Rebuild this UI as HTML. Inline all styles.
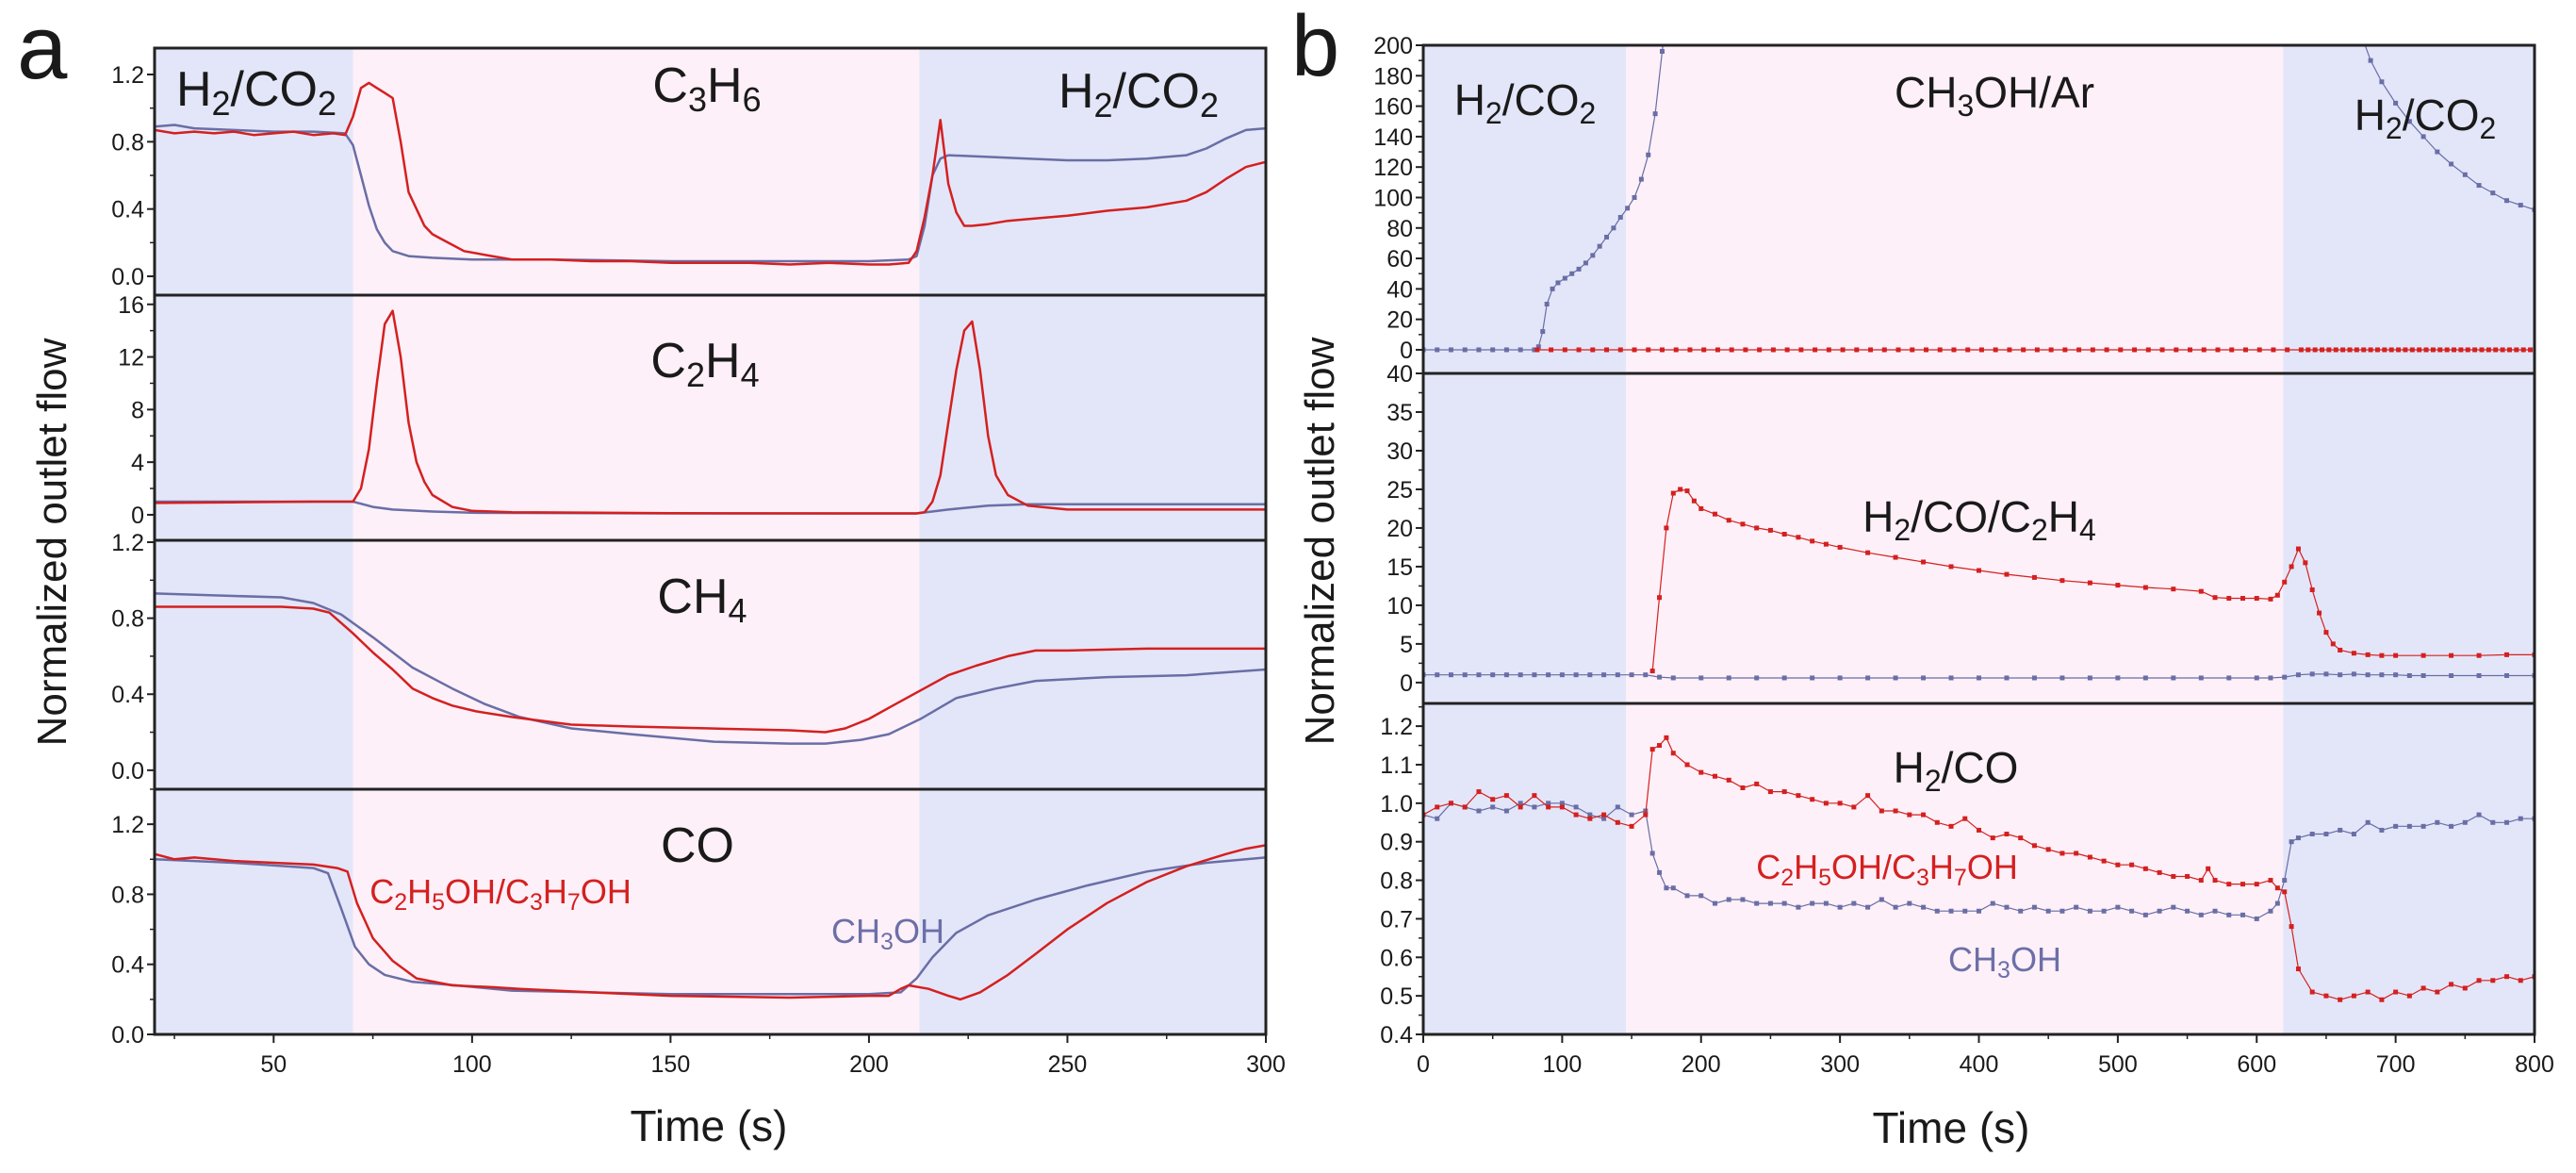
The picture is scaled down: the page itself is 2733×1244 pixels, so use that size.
<!DOCTYPE html>
<html><head><meta charset="utf-8"><style>
html,body{margin:0;padding:0;background:#fff}
svg{display:block}
text{font-family:"Liberation Sans Narrow","Liberation Sans",Arial,sans-serif;fill:#1a1a1a}
.tk{font-size:25px}
.big{font-family:"Liberation Sans",Arial,sans-serif}
</style></head><body>
<svg id="fig" width="2733" height="1244" viewBox="0 0 2733 1244" xmlns="http://www.w3.org/2000/svg">
<g id="bg"></g>
<g id="marks"></g>
<g id="axes"></g>
<text class="big" x="18" y="83" font-size="96">a</text>
<text class="big" x="1370" y="80" font-size="92">b</text>
<text class="big" transform="translate(70,575) rotate(-90)" text-anchor="middle" font-size="44">Normalized outlet flow</text>
<text class="big" transform="translate(1415,574) rotate(-90)" text-anchor="middle" font-size="44">Normalized outlet flow</text>
<text x="752" y="1210" text-anchor="middle" font-size="46">Time (s)</text>
<text x="2070" y="1212" text-anchor="middle" font-size="46">Time (s)</text>
<g font-size="52">
<text x="272" y="112" text-anchor="middle">H<tspan font-size="36" dy="10">2</tspan><tspan dy="-10">/CO</tspan><tspan font-size="36" dy="10">2</tspan></text>
<text x="750" y="108" text-anchor="middle">C<tspan font-size="36" dy="10">3</tspan><tspan dy="-10">H</tspan><tspan font-size="36" dy="10">6</tspan></text>
<text x="1208" y="114" text-anchor="middle">H<tspan font-size="36" dy="10">2</tspan><tspan dy="-10">/CO</tspan><tspan font-size="36" dy="10">2</tspan></text>
<text x="748" y="400" text-anchor="middle">C<tspan font-size="36" dy="10">2</tspan><tspan dy="-10">H</tspan><tspan font-size="36" dy="10">4</tspan></text>
<text x="745" y="650" text-anchor="middle">CH<tspan font-size="36" dy="10">4</tspan></text>
<text x="740" y="914" text-anchor="middle">CO</text>
<text x="1618" y="122" text-anchor="middle" font-size="46">H<tspan font-size="32" dy="9">2</tspan><tspan dy="-9">/CO</tspan><tspan font-size="32" dy="9">2</tspan></text>
<text x="2116" y="114" text-anchor="middle" font-size="46">CH<tspan font-size="32" dy="9">3</tspan><tspan dy="-9">OH/Ar</tspan></text>
<text x="2573" y="138" text-anchor="middle" font-size="46">H<tspan font-size="32" dy="9">2</tspan><tspan dy="-9">/CO</tspan><tspan font-size="32" dy="9">2</tspan></text>
<text x="2100" y="564" text-anchor="middle" font-size="46">H<tspan font-size="32" dy="9">2</tspan><tspan dy="-9">/CO/C</tspan><tspan font-size="32" dy="9">2</tspan><tspan dy="-9">H</tspan><tspan font-size="32" dy="9">4</tspan></text>
<text x="2075" y="830" text-anchor="middle" font-size="46">H<tspan font-size="32" dy="9">2</tspan><tspan dy="-9">/CO</tspan></text>
</g>
<text x="531" y="958" text-anchor="middle" font-size="36" style="fill:#d42020">C<tspan font-size="25" dy="7">2</tspan><tspan dy="-7">H</tspan><tspan font-size="25" dy="7">5</tspan><tspan dy="-7">OH/C</tspan><tspan font-size="25" dy="7">3</tspan><tspan dy="-7">H</tspan><tspan font-size="25" dy="7">7</tspan><tspan dy="-7">OH</tspan></text>
<text x="942" y="1000" text-anchor="middle" font-size="36" style="fill:#6c6fa8">CH<tspan font-size="25" dy="7">3</tspan><tspan dy="-7">OH</tspan></text>
<text x="2002" y="932" text-anchor="middle" font-size="36" style="fill:#d42020">C<tspan font-size="25" dy="7">2</tspan><tspan dy="-7">H</tspan><tspan font-size="25" dy="7">5</tspan><tspan dy="-7">OH/C</tspan><tspan font-size="25" dy="7">3</tspan><tspan dy="-7">H</tspan><tspan font-size="25" dy="7">7</tspan><tspan dy="-7">OH</tspan></text>
<text x="2127" y="1030" text-anchor="middle" font-size="36" style="fill:#6c6fa8">CH<tspan font-size="25" dy="7">3</tspan><tspan dy="-7">OH</tspan></text>
</svg>
<script>
// ---------- Panel a data ----------
const aC3H6RedT = [20,25,30,35,40,45,50,55,60,65,68,70,72,74,76,78,80,82,84,86,88,90,94,98,105,110,120,130,140,150,160,170,180,190,200,205,210,212,214,216,218,220,222,224,226,230,235,240,250,260,270,280,285,290,295,300];
const aC3H6RedV = [0.87,0.85,0.86,0.85,0.86,0.84,0.85,0.86,0.84,0.85,0.84,0.95,1.12,1.15,1.12,1.09,1.06,0.8,0.5,0.4,0.3,0.25,0.2,0.15,0.12,0.1,0.1,0.09,0.09,0.08,0.08,0.08,0.07,0.08,0.07,0.07,0.08,0.15,0.35,0.6,0.93,0.55,0.38,0.3,0.3,0.31,0.33,0.34,0.36,0.39,0.41,0.45,0.5,0.58,0.65,0.68];
const aC3H6BlueT = [20,25,30,40,50,60,68,70,72,74,76,78,80,84,90,100,120,150,180,200,210,212,214,216,218,220,230,240,250,260,270,275,280,285,290,295,300];
const aC3H6BlueV = [0.89,0.9,0.88,0.87,0.86,0.86,0.85,0.78,0.6,0.42,0.28,0.2,0.15,0.12,0.11,0.1,0.1,0.09,0.09,0.09,0.1,0.12,0.3,0.6,0.7,0.72,0.71,0.7,0.69,0.69,0.7,0.71,0.72,0.76,0.82,0.87,0.88];
const aC2H4RedT = [20,40,60,70,72,74,76,78,80,82,84,86,88,90,95,100,110,150,200,212,214,216,218,220,222,224,226,228,230,232,235,240,250,300];
const aC2H4RedV = [0.9,0.95,1.0,1.0,2,5,10,14.5,15.5,12,7,4,2.5,1.5,0.6,0.3,0.2,0.12,0.1,0.1,0.2,1,3,7,11,14,14.7,11,6,3,1.5,0.7,0.4,0.4];
const aC2H4BlueT = [20,40,60,70,75,80,90,100,150,200,212,220,230,240,300];
const aC2H4BlueV = [1.0,1.0,1.0,1.0,0.6,0.4,0.25,0.15,0.1,0.1,0.1,0.4,0.7,0.8,0.8];
const aCH4RedT = [20,40,52,60,64,70,75,80,85,90,95,101,110,125,140,160,180,189,194,200,206,213,220,227,235,242,250,270,300];
const aCH4RedV = [0.86,0.86,0.86,0.85,0.83,0.72,0.62,0.53,0.43,0.38,0.34,0.31,0.28,0.24,0.23,0.22,0.21,0.2,0.22,0.27,0.34,0.42,0.5,0.55,0.6,0.63,0.63,0.64,0.64];
const aCH4BlueT = [20,35,52,60,67,75,85,95,103,112,125,140,161,180,189,198,205,213,222,232,242,260,280,300];
const aCH4BlueV = [0.93,0.92,0.91,0.88,0.82,0.7,0.54,0.43,0.35,0.28,0.22,0.19,0.15,0.14,0.14,0.16,0.19,0.27,0.38,0.43,0.47,0.49,0.5,0.53];
const aCORedT = [20,25,30,40,50,60,66,68.6,71,75,80,86,95,105,112,130,150,180,200,205,208,210,215,220,223,228,235,242,250,260,270,280,290,295,300];
const aCORedV = [1.03,1.0,1.01,0.99,0.98,0.97,0.95,0.93,0.75,0.55,0.42,0.32,0.28,0.27,0.26,0.24,0.22,0.21,0.22,0.22,0.26,0.28,0.26,0.22,0.2,0.24,0.34,0.46,0.6,0.75,0.87,0.96,1.03,1.06,1.08];
const aCOBlueT = [20,40,60,63.7,67,70.5,74,78,85,96,110,150,200,208,212,216,222,230,242,255,270,285,300];
const aCOBlueV = [1.0,0.98,0.95,0.92,0.72,0.5,0.4,0.34,0.3,0.28,0.25,0.23,0.23,0.24,0.32,0.44,0.58,0.68,0.77,0.85,0.93,0.98,1.01];
// ---------- Panel b data ----------
const bTopBlueT = [0,10,20,30,40,50,60,70,80,83,86,89,93,97,102,107,112,117,122,127,132,137,142,147,152,157,162,167,172,180,670,676,682,690,700,710,720,730,740,750,760,770,780,790,800];
const bTopBlueV = [0,0,0,0,0,0,0,0,0,2,12,30,40,44,47,50,53,57,62,68,74,80,87,93,100,112,128,155,196,260,260,205,190,176,162,150,140,130,122,115,108,103,98,95,92];
const bTopRedT = [82,92,102,112,122,132,142,152,162,172,182,192,202,212,222,232,242,252,262,272,282,292,302,312,322,332,342,352,362,372,382,392,402,412,422,432,442,452,462,472,482,492,502,512,522,532,542,552,562,572,582,592,602,612,622,632,637,642,647,652,657,662,667,672,677,682,687,692,697,702,707,712,717,722,727,732,737,742,747,752,757,762,767,772,777,782,787,792,797];
const bTopRedV = bTopRedT.map(() => 0);
const bMidBlueT = [0,10,20,30,40,50,60,70,80,90,100,110,120,130,140,150,160,170,180,200,220,240,260,280,300,320,340,360,380,400,420,440,460,480,500,520,540,560,580,600,610,620,630,640,650,660,670,680,690,700,710,720,740,760,780,800];
const bMidBlueV = [1,1,1,1,1,1,1,1,1,1,1,1,1,1,1,1,1,0.7,0.6,0.6,0.6,0.6,0.6,0.6,0.6,0.6,0.6,0.6,0.6,0.6,0.6,0.6,0.6,0.6,0.6,0.6,0.6,0.6,0.6,0.6,0.6,0.7,1.0,1.1,1.1,1.0,1.1,1.0,1.0,1.0,0.9,0.9,0.9,0.9,0.9,0.9];
const bMidRedT = [165,170,175,180,185,190,195,200,210,220,230,240,250,260,270,280,290,300,320,340,360,380,400,420,440,460,480,500,520,540,560,570,580,590,600,610,615,620,625,630,635,640,645,650,655,660,670,680,690,700,720,740,760,780,800];
const bMidRedV = [1.5,11,20,24.5,25,24.8,23.5,22.5,21.8,21,20.5,20,19.7,19.2,18.8,18.3,17.9,17.5,16.8,16.2,15.6,15,14.5,14,13.6,13.2,12.9,12.6,12.3,12.1,11.8,11,10.9,10.9,10.9,10.8,11.3,13,15,17.3,15.5,12,9,6.5,5,4.2,3.8,3.6,3.5,3.5,3.5,3.5,3.5,3.6,3.6];
const bBotRedT = [0,10,20,30,40,50,60,70,80,90,100,110,120,130,140,150,160,165,170,175,180,190,200,210,220,230,240,250,260,270,280,290,300,310,320,330,340,350,360,370,380,390,400,410,420,430,440,450,460,470,480,490,500,510,520,530,540,550,560,565,570,580,590,600,610,615,620,625,630,640,650,660,670,680,690,700,710,720,730,740,750,760,770,780,790,800];
const bBotRedV = [0.97,0.99,1.0,0.99,1.03,1.01,1.02,0.99,1.02,0.99,0.99,0.97,0.96,0.97,0.95,0.94,0.97,1.14,1.15,1.17,1.13,1.1,1.08,1.07,1.06,1.04,1.05,1.03,1.03,1.02,1.01,1.0,1.0,0.99,1.02,0.98,0.98,0.97,0.97,0.95,0.94,0.96,0.93,0.91,0.92,0.91,0.89,0.88,0.87,0.87,0.86,0.85,0.84,0.84,0.83,0.82,0.81,0.81,0.8,0.83,0.8,0.79,0.79,0.79,0.8,0.78,0.77,0.68,0.57,0.51,0.5,0.49,0.5,0.51,0.49,0.51,0.5,0.52,0.51,0.53,0.52,0.54,0.54,0.55,0.54,0.55];
const bBotBlueT = [0,10,20,30,40,50,60,70,80,90,100,110,120,130,140,150,160,165,170,175,180,190,200,210,220,230,240,250,260,270,280,290,300,310,320,330,340,350,360,370,380,390,400,410,420,430,440,450,460,470,480,490,500,510,520,530,540,550,560,570,580,590,600,610,615,620,625,630,640,650,660,670,680,690,700,710,720,730,740,750,760,770,780,790,800];
const bBotBlueV = [0.97,0.96,1.0,0.99,0.98,0.99,0.98,1.0,0.99,1.0,1.0,0.99,0.97,0.96,0.99,0.97,0.98,0.87,0.82,0.78,0.78,0.76,0.76,0.74,0.75,0.75,0.74,0.74,0.74,0.73,0.74,0.74,0.73,0.74,0.73,0.75,0.73,0.74,0.73,0.72,0.72,0.72,0.72,0.74,0.73,0.72,0.73,0.72,0.72,0.73,0.72,0.72,0.73,0.72,0.71,0.72,0.73,0.72,0.71,0.72,0.71,0.71,0.70,0.72,0.74,0.8,0.9,0.91,0.92,0.92,0.93,0.92,0.95,0.93,0.94,0.94,0.94,0.95,0.94,0.95,0.97,0.95,0.95,0.96,0.96];
// tick labels
const aXTicks = [50,100,150,200,250,300];
const bXTicks = [0,100,200,300,400,500,600,700,800];
const aYTicks1 = ["0.0","0.4","0.8","1.2"];
const aYTicks2 = ["0","4","8","12","16"];
const bYTicks1 = ["0","20","40","60","80","100","120","140","160","180","200"];
const bYTicks2 = ["0","5","10","15","20","25","30","35","40"];
const bYTicks3 = ["0.4","0.5","0.6","0.7","0.8","0.9","1.0","1.1","1.2"];
// phase boundaries
const aPhases = [70, 212.7];
const bPhases = [146, 619];

const NS = "http://www.w3.org/2000/svg";
const RED = "#d42020", BLUE = "#6a6ea6", BGB = "#e3e6f8", BGP = "#fdf0f8";
function mk(tag, attrs, parent) {
  const e = document.createElementNS(NS, tag);
  for (const k in attrs) e.setAttribute(k, attrs[k]);
  parent.appendChild(e);
  return e;
}
const gBg = document.getElementById('bg'), gM = document.getElementById('marks'), gA = document.getElementById('axes');
const defs = mk('defs', {}, document.getElementById('fig'));
let clipId = 0;

function panel(p) {
  p.sx = v => p.x0 + (v - p.xmin) / (p.xmax - p.xmin) * (p.x1 - p.x0);
  p.sy = v => p.y1 - (v - p.ymin) / (p.ymax - p.ymin) * (p.y1 - p.y0);
  return p;
}
function backgrounds(p, phases) {
  const a = p.sx(phases[0]), b = p.sx(phases[1]);
  const r1 = mk('rect', {x: p.x0, y: p.y0, width: a - p.x0, height: p.y1 - p.y0, fill: BGB}, gBg);
  
  
  const r2 = mk('rect', {x: a, y: p.y0, width: b - a, height: p.y1 - p.y0, fill: BGP}, gBg);
  
  
  const r3 = mk('rect', {x: b, y: p.y0, width: p.x1 - b, height: p.y1 - p.y0, fill: BGB}, gBg);
  
  
}
function series(p, T, V, color, name, markers, width) {
  const id = 'c' + (clipId++);
  const cp = mk('clipPath', {id: id}, defs);
  mk('rect', {x: p.x0, y: p.y0, width: p.x1 - p.x0, height: p.y1 - p.y0}, cp);
  const g = mk('g', {'clip-path': 'url(#' + id + ')'}, gM);
  
  
  let d = '';
  T.forEach((t, i) => { d += (i ? 'L' : 'M') + p.sx(t).toFixed(1) + ' ' + p.sy(V[i]).toFixed(1); });
  const path = mk('path', {d: d, fill: 'none', stroke: color, 'stroke-width': width, 'stroke-linejoin': 'round'}, g);
  
  
  if (markers) {
    T.forEach((t, i) => {
      const m = mk('rect', {x: p.sx(t) - 2.5, y: p.sy(V[i]) - 2.5, width: 5, height: 5, fill: color}, g);
      
      
    });
  }
}
function frame(p) {
  const r = mk('rect', {x: p.x0, y: p.y0, width: p.x1 - p.x0, height: p.y1 - p.y0, fill: 'none', stroke: '#222', 'stroke-width': 3}, gA);
  
  
}
function yTicks(p, labels, minorStep, name) {
  const vals = labels.map(Number);
  vals.forEach((v, i) => {
    const y = p.sy(v);
    mk('line', {x1: p.x0 - 8, x2: p.x0, y1: y, y2: y, stroke: '#222', 'stroke-width': 2}, gA);
    const t = mk('text', {x: p.x0 - 11, y: y + 9, 'text-anchor': 'end', class: 'tk'}, gA);
    t.textContent = labels[i];
    
    
  });
  for (let v = vals[0]; v <= p.ymax + 1e-9; v += minorStep) {
    const y = p.sy(v);
    if (y < p.y0 - 0.5) break;
    mk('line', {x1: p.x0 - 5, x2: p.x0, y1: y, y2: y, stroke: '#222', 'stroke-width': 1.5}, gA);
  }
}
function xTicks(p, vals, minorStep, name) {
  vals.forEach(v => {
    const x = p.sx(v);
    mk('line', {x1: x, x2: x, y1: p.y1, y2: p.y1 + 9, stroke: '#222', 'stroke-width': 2}, gA);
    const t = mk('text', {x: x, y: p.y1 + 40, 'text-anchor': 'middle', class: 'tk', 'font-size': 28}, gA);
    t.textContent = v;
    
    
  });
  for (let v = Math.ceil(p.xmin / minorStep) * minorStep; v <= p.xmax; v += minorStep) {
    const x = p.sx(v);
    mk('line', {x1: x, x2: x, y1: p.y1, y2: p.y1 + 5, stroke: '#222', 'stroke-width': 1.5}, gA);
  }
}

// Panel a
const AX0 = 164, AX1 = 1343;
const pa1 = panel({x0: AX0, x1: AX1, xmin: 20, xmax: 300, y0: 51, y1: 313, ymin: -0.112, ymax: 1.357});
const pa2 = panel({x0: AX0, x1: AX1, xmin: 20, xmax: 300, y0: 313, y1: 573, ymin: -1.94, ymax: 16.7});
const pa3 = panel({x0: AX0, x1: AX1, xmin: 20, xmax: 300, y0: 573, y1: 837, ymin: -0.1, ymax: 1.21});
const pa4 = panel({x0: AX0, x1: AX1, xmin: 20, xmax: 300, y0: 837, y1: 1097, ymin: 0, ymax: 1.40});
// Panel b
const BX0 = 1510, BX1 = 2689;
const pb1 = panel({x0: BX0, x1: BX1, xmin: 0, xmax: 800, y0: 48, y1: 396, ymin: -15.5, ymax: 200});
const pb2 = panel({x0: BX0, x1: BX1, xmin: 0, xmax: 800, y0: 396, y1: 746, ymin: -2.7, ymax: 40});
const pb3 = panel({x0: BX0, x1: BX1, xmin: 0, xmax: 800, y0: 746, y1: 1097, ymin: 0.4, ymax: 1.259});

[pa1, pa2, pa3, pa4].forEach(p => backgrounds(p, aPhases));
[pb1, pb2, pb3].forEach(p => backgrounds(p, bPhases));

series(pa1, aC3H6BlueT, aC3H6BlueV, BLUE, 'c3h6-ch3oh', false, 2.5);
series(pa1, aC3H6RedT, aC3H6RedV, RED, 'c3h6-c2c3oh', false, 2.5);
series(pa2, aC2H4BlueT, aC2H4BlueV, BLUE, 'c2h4-ch3oh', false, 2.5);
series(pa2, aC2H4RedT, aC2H4RedV, RED, 'c2h4-c2c3oh', false, 2.5);
series(pa3, aCH4BlueT, aCH4BlueV, BLUE, 'ch4-ch3oh', false, 2.5);
series(pa3, aCH4RedT, aCH4RedV, RED, 'ch4-c2c3oh', false, 2.5);
series(pa4, aCOBlueT, aCOBlueV, BLUE, 'co-ch3oh', false, 2.5);
series(pa4, aCORedT, aCORedV, RED, 'co-c2c3oh', false, 2.5);

series(pb1, bTopBlueT, bTopBlueV, BLUE, 'b-top-ch3oh', true, 1.2);
series(pb1, bTopRedT, bTopRedV, RED, 'b-top-c2c3oh', true, 1.2);
series(pb2, bMidBlueT, bMidBlueV, BLUE, 'b-mid-ch3oh', true, 1.2);
series(pb2, bMidRedT, bMidRedV, RED, 'b-mid-c2c3oh', true, 1.2);
series(pb3, bBotBlueT, bBotBlueV, BLUE, 'b-bot-ch3oh', true, 1.2);
series(pb3, bBotRedT, bBotRedV, RED, 'b-bot-c2c3oh', true, 1.2);

[pa1, pa2, pa3, pa4, pb1, pb2, pb3].forEach(p => frame(p));
yTicks(pa1, aYTicks1, 0.2, 'a-c3h6-y');
yTicks(pa2, aYTicks2, 2, 'a-c2h4-y');
yTicks(pa3, aYTicks1, 0.2, 'a-ch4-y');
yTicks(pa4, aYTicks1, 0.2, 'a-co-y');
yTicks(pb1, bYTicks1, 10, 'b-top-y');
yTicks(pb2, bYTicks2, 2.5, 'b-mid-y');
yTicks(pb3, bYTicks3, 0.05, 'b-bot-y');
xTicks(pa4, aXTicks, 25, 'a-x');
xTicks(pb3, bXTicks, 50, 'b-x');
</script>
</body></html>
